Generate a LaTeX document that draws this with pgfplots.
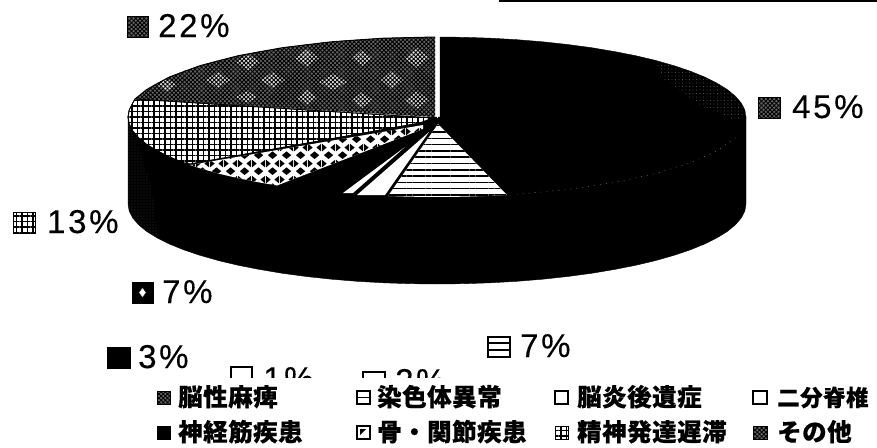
\documentclass[border=0pt]{standalone}
\usepackage{fontspec}
\usepackage{pgfplots}
\pgfplotsset{compat=1.18}
\usetikzlibrary{patterns,patterns.meta}
\newfontfamily\lab[LetterSpace=8,FakeBold=0.25]{Liberation Sans}
\newfontfamily\cjk[LetterSpace=2,BoldFeatures={FakeBold=0.4}]{Noto Sans CJK JP}

% diamonds of the 7% slice
\pgfdeclarepatternformonly{bigdiam}{\pgfpointorigin}{\pgfqpoint{14pt}{16pt}}{\pgfqpoint{14pt}{16pt}}{
  \pgfpathmoveto{\pgfqpoint{2pt}{4pt}}\pgfpathlineto{\pgfqpoint{7pt}{8pt}}
  \pgfpathlineto{\pgfqpoint{12pt}{4pt}}\pgfpathlineto{\pgfqpoint{7pt}{0pt}}\pgfpathclose
  \pgfpathmoveto{\pgfqpoint{0pt}{8pt}}\pgfpathlineto{\pgfqpoint{5pt}{12pt}}
  \pgfpathlineto{\pgfqpoint{0pt}{16pt}}\pgfpathclose
  \pgfpathmoveto{\pgfqpoint{14pt}{8pt}}\pgfpathlineto{\pgfqpoint{9pt}{12pt}}
  \pgfpathlineto{\pgfqpoint{14pt}{16pt}}\pgfpathclose
  \pgfusepath{fill}}

\tikzset{
  mott/.style={fill=black!60,postaction={pattern={Hatch[angle=45,distance=3pt,line width=.9pt]},pattern color=black}},
  stripes/.style={fill=white,postaction={pattern={Lines[angle=0,distance=6.3pt,line width=1.5pt]},pattern color=black}},
  gridd/.style={fill=white,postaction={pattern={Hatch[angle=0,distance=5.5pt,line width=1.7pt]},pattern color=black}},
  diam/.style={fill=white,postaction={pattern=bigdiam,pattern color=black}},
  lb/.style={anchor=base west,font=\lab\fontsize{33}{33}\selectfont,inner sep=0pt},
  lg/.style={anchor=base west,font=\cjk\bfseries\fontsize{24.5}{25}\selectfont,inner sep=0pt},
  lgs/.style={anchor=base west,font=\cjk\bfseries\fontsize{22.5}{25}\selectfont,inner sep=0pt},
  blot/.style={fill=black!12,draw=none},
}
% \sw{x1}{y1}{x2}{y2}{style}
\newcommand{\sw}[5]{\addplot[#5] coordinates {(#1,#2) (#3,#2) (#3,#4) (#1,#4)} -- cycle;}

\begin{document}
\begin{tikzpicture}
\begin{axis}[
    width=877pt, height=447pt, scale only axis,
    xmin=0, xmax=877, ymin=0, ymax=447,
    y dir=reverse, hide axis,
]
% page sized background, keeps the whole axis inside the picture
\sw{0}{0}{877}{447}{fill=white,draw=none}
% bar at the top edge
\sw{499}{0}{877}{2}{fill=black,draw=none}

% side of the pie
\addplot[fill=black] coordinates {
 (746,117) (746,204) (744.8,211) (741.3,217.9) (735.5,224.7) (727.4,231.4) (717,237.8) (704.6,244)
 (690.1,249.9) (673.7,255.4) (655.5,260.6) (635.6,265.3) (614.2,269.5) (591.5,273.3) (567.6,276.5)
 (542.7,279.2) (517,281.3) (490.6,282.8) (463.9,283.7) (437,284) (410.1,283.7) (383.4,282.8)
 (357,281.3) (331.3,279.2) (306.4,276.5) (282.5,273.3) (259.8,269.5) (238.4,265.3) (218.5,260.6)
 (200.3,255.4) (183.9,249.9) (169.4,244) (157,237.8) (146.6,231.4) (138.5,224.7) (132.7,217.9)
 (129.2,211) (128,204) (128,117)
} -- cycle;
\addplot[pattern={Dots[distance=3pt,radius=.45pt]},pattern color=gray,draw=none] coordinates {
 (128,122) (128,204) (132,218) (146,231) (158,238) (152,190) (140,150)
} -- cycle;

% 45%
\addplot[fill=black] coordinates {
 (440,118) (440,37) (463.9,37.3) (490.6,38.2) (517,39.7) (542.7,41.8) (567.6,44.5) (591.5,47.7)
 (614.2,51.5) (635.6,55.7) (655.5,60.4) (673.7,65.6) (690.1,71.1) (704.6,77) (717,83.2) (727.4,89.6)
 (735.5,96.3) (741.3,103.1) (744.8,110) (746,117) (744.8,124) (741.3,130.9) (735.5,137.7) (727.4,144.4)
 (717,150.8) (704.6,157) (690.1,162.9) (673.7,168.4) (655.5,173.6) (635.6,178.3) (614.2,182.5)
 (591.5,186.3) (567.6,189.5) (542.7,192.2) (517,194.3) (507,195)
} -- cycle;
\addplot[pattern={Dots[distance=3.5pt,radius=.45pt]},pattern color=gray,draw=none] coordinates {
 (655,60) (690,71) (717,83) (735,96) (745,110) (746,117) (735,120) (700,105) (665,80)
} -- cycle;
% faint rim of the 45% top
\addplot[gray,line width=.4pt,dash pattern=on 1pt off 5pt] coordinates {
 (735.5,137.7) (717,150.8) (690.1,162.9) (655.5,173.6) (614.2,182.5) (567.6,189.5) (517,194.3)
};

% 22%
\addplot[fill=black!60,draw=none] coordinates {
 (435,37) (410.1,37.3) (383.4,38.2) (357,39.7) (331.3,41.8) (306.4,44.5) (282.5,47.7) (259.8,51.5)
 (238.4,55.7) (218.5,60.4) (200.3,65.6) (183.9,71.1) (169.4,77) (157,83.2) (146.6,89.6) (138.5,96.3)
 (135,99) (435,117)
} -- cycle;
% light patches of the mottled fill
\addplot[blot] coordinates {(157,85) (167,79) (177,85) (167,91)} -- cycle;
\addplot[blot] coordinates {(206,80) (218,72) (230,80) (218,88)} -- cycle;
\addplot[blot] coordinates {(236,62) (248,54) (260,62) (248,70)} -- cycle;
\addplot[blot] coordinates {(261,80) (273,72) (285,80) (273,88)} -- cycle;
\addplot[blot] coordinates {(295,58) (307,49) (319,58) (307,67)} -- cycle;
\addplot[blot] coordinates {(319,82) (333,74) (347,82) (333,90)} -- cycle;
\addplot[blot] coordinates {(352,58) (362,50) (372,58) (362,66)} -- cycle;
\addplot[blot] coordinates {(381,80) (392,71) (403,80) (392,89)} -- cycle;
\addplot[blot] coordinates {(405,58) (417,48) (429,58) (417,68)} -- cycle;
\addplot[blot] coordinates {(405,100) (417,91) (429,100) (417,109)} -- cycle;
\addplot[blot] coordinates {(352,100) (362,92) (372,100) (362,108)} -- cycle;
\addplot[blot] coordinates {(297,98) (307,90) (317,98) (307,105)} -- cycle;
\addplot[blot] coordinates {(236,97) (247,91) (258,97) (247,103)} -- cycle;
\addplot[draw=none,pattern={Hatch[angle=45,distance=3pt,line width=.9pt]},pattern color=black] coordinates {
 (435,37) (410.1,37.3) (383.4,38.2) (357,39.7) (331.3,41.8) (306.4,44.5) (282.5,47.7) (259.8,51.5)
 (238.4,55.7) (218.5,60.4) (200.3,65.6) (183.9,71.1) (169.4,77) (157,83.2) (146.6,89.6) (138.5,96.3)
 (135,99) (435,117)
} -- cycle;
\addplot[black,line width=1pt] coordinates {
 (435,37) (383.4,38.2) (331.3,41.8) (282.5,47.7) (238.4,55.7) (200.3,65.6) (169.4,77) (146.6,89.6) (135,99)
};

% 13%
\addplot[gridd,draw=black,line width=.8pt] coordinates {
 (433,118) (135,99) (132.7,103.1) (129.2,110) (128,117) (129.2,124) (132.7,130.9) (138.5,137.7)
 (146.6,144.4) (157,150.8) (169.4,157) (183.9,162.9) (190,164) (420,123)
} -- cycle;

% 7% diamonds
\addplot[diam,draw=none] coordinates {
 (190,165) (200.3,168.4) (218.5,173.6) (238.4,178.3) (259.8,182.5) (277,185.5) (423,129) (423,125)
} -- cycle;

% 1% and 2%
\addplot[fill=white,draw=none] coordinates {(343,193) (353,193) (405,147)} -- cycle;
\addplot[fill=white,draw=none] coordinates {(357,195) (385,195) (429,132)} -- cycle;

% 7% stripes
\addplot[stripes,draw=none] coordinates {
 (438,124) (507,195) (490.6,195.8) (463.9,196.7) (437,197) (410.1,196.7) (388,196)
} -- cycle;

% gap between 22% and 45%
\addplot[white,line width=1.6pt] coordinates {(437.5,36) (437.5,118)};

% value labels
\sw{127}{16}{148}{37}{mott,draw=black}
\node[lb] at (axis cs:158,37) {22\%};
\sw{758}{97}{780}{118}{mott,draw=black}
\node[lb] at (axis cs:792,118) {45\%};
\sw{13}{212}{35}{233}{gridd,draw=black,line width=1pt}
\node[lb] at (axis cs:47,233) {13\%};
\sw{132}{282}{153}{303}{fill=black}
\addplot[only marks,mark=diamond*,mark size=5pt,draw=none,fill=white] coordinates {(142.5,292.5)};
\node[lb] at (axis cs:162,303) {7\%};
\sw{107}{347}{130}{368}{fill=black}
\node[lb] at (axis cs:138,368) {3\%};
\sw{488}{337}{510}{357}{fill=white,draw=black,line width=1.4pt}
\addplot[black,line width=1.2pt] coordinates {(488,343) (510,343)};
\addplot[black,line width=1.2pt] coordinates {(488,350) (510,350)};
\node[lb] at (axis cs:520,357) {7\%};
\sw{231}{367}{252}{388}{fill=white,draw=black,line width=1.4pt}
\node[lb] at (axis cs:263,390) {1\%};
\sw{363}{372}{385}{393}{fill=white,draw=black,line width=1.4pt}
\node[lb] at (axis cs:395,392) {2\%};

% the legend box covers the lower part of the last two labels
\sw{150}{378}{877}{447}{fill=white,draw=none}

% legend
\sw{157}{391}{170}{404}{mott,draw=black}
\node[lg] at (axis cs:178,406) {脳性麻痺};
\sw{357}{391}{370}{404}{fill=white,draw=black,line width=1.2pt}
\addplot[black,line width=1pt] coordinates {(357,397.5) (370,397.5)};
\node[lg] at (axis cs:377,406) {染色体異常};
\sw{555}{391}{568}{404}{fill=white,draw=black,line width=1.2pt}
\node[lg] at (axis cs:577,406) {脳炎後遺症};
\sw{753}{391}{767}{404}{fill=white,draw=black,line width=1.2pt}
\node[lgs] at (axis cs:777,406) {二分脊椎};
\sw{157}{426}{170}{439}{fill=black}
\node[lg] at (axis cs:178,441) {神経筋疾患};
\sw{357}{426}{370}{439}{fill=white,draw=black,line width=1.2pt}
\addplot[fill=black,draw=none] coordinates {(360,429) (366,429) (360,435)} -- cycle;
\node[lg] at (axis cs:377,441) {骨・関節疾患};
\sw{555}{426}{568}{439}{gridd,draw=black,line width=1pt}
\node[lg] at (axis cs:577,441) {精神発達遅滞};
\sw{753}{426}{767}{439}{mott,draw=black}
\node[lg] at (axis cs:777,441) {その他};
\end{axis}
\end{tikzpicture}
\end{document}
